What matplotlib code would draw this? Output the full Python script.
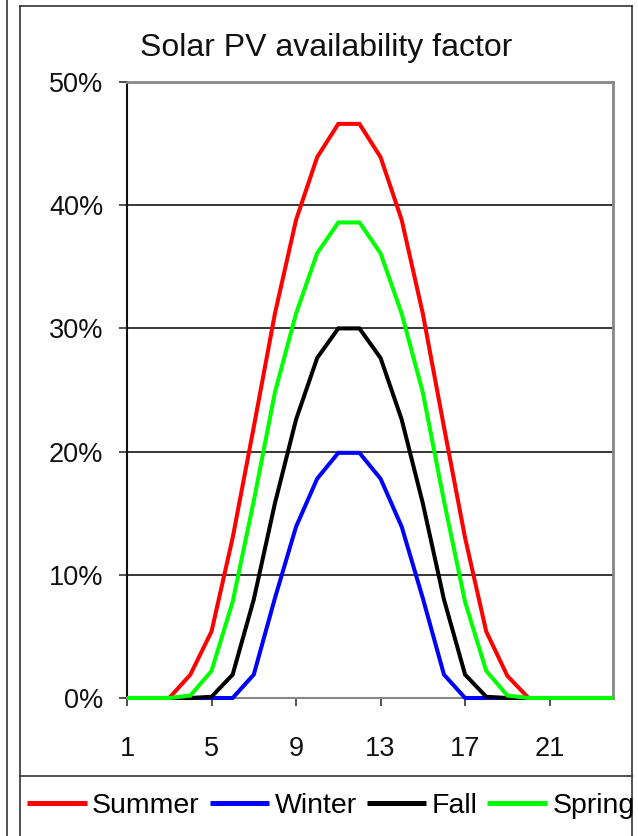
import matplotlib
matplotlib.use("Agg")
import matplotlib.pyplot as plt
from matplotlib.lines import Line2D

plt.rcParams['font.family'] = ['Liberation Sans', 'DejaVu Sans']

hours = list(range(1, 25))
summer = [0, 0, 0, 1.9, 5.4, 13.0, 22.0, 31.2, 38.8, 43.9, 46.6, 46.6,
          43.9, 38.8, 31.2, 22.0, 13.0, 5.4, 1.8, 0, 0, 0, 0, 0]
winter = [0, 0, 0, 0, 0, 0, 1.9, 8.1, 13.9, 17.8, 19.9, 19.9,
          17.8, 13.9, 8.1, 1.9, 0, 0, 0, 0, 0, 0, 0, 0]
fall = [0, 0, 0, 0, 0.1, 1.9, 8.0, 15.8, 22.6, 27.6, 30.0, 30.0,
        27.6, 22.6, 15.8, 8.0, 1.9, 0.1, 0, 0, 0, 0, 0, 0]
spring = [0, 0, 0, 0.2, 2.2, 7.8, 16.0, 24.8, 31.2, 36.1, 38.6, 38.6,
          36.1, 31.2, 24.8, 16.0, 7.8, 2.2, 0.2, 0, 0, 0, 0, 0]
series_names = ["Summer", "Winter", "Fall", "Spring"]
series_colors = ["#FF0000", "#0000FF", "#000000", "#00FF00"]
xticks = [1, 5, 9, 13, 17, 21]
yticks = [0, 10, 20, 30, 40, 50]
ytick_labels = ["0%", "10%", "20%", "30%", "40%", "50%"]
title = "Solar PV availability factor"

W, H = 638, 836
fig = plt.figure(figsize=(W / 100, H / 100), dpi=100)

def fx(px):
    return px / W

def fy(py):
    return 1 - py / H

ax = fig.add_axes([fx(127), fy(698), fx(613) - fx(127), fy(82) - fy(698)])
for vals, name, col in zip([summer, winter, fall, spring], series_names, series_colors):
    ax.plot(hours, vals, color=col, lw=2.9, label=name, solid_joinstyle='miter',
            solid_capstyle='butt', zorder=3, clip_on=False)

ax.set_xlim(1, 24)
ax.set_ylim(0, 50)
ax.set_xticks(xticks)
ax.set_xticklabels([str(t) for t in xticks])
ax.set_yticks(yticks)
ax.set_yticklabels(ytick_labels)
ax.tick_params(axis='both', direction='out', length=6, width=1.2, color='#333333',
               labelsize=19.5, labelcolor='#111111')
ax.tick_params(axis='y', pad=11)
ax.tick_params(axis='x', pad=21)
for y in yticks[1:-1]:
    ax.axhline(y, color='black', lw=1.1, zorder=1)
ax.spines['left'].set_color('#111111')
ax.spines['left'].set_linewidth(1.5)
ax.spines['bottom'].set_color('#888888')
ax.spines['bottom'].set_linewidth(1.5)
ax.spines['top'].set_color('#888888')
ax.spines['top'].set_linewidth(2.0)
ax.spines['right'].set_color('#888888')
ax.spines['right'].set_linewidth(2.0)

fig.text(fx(326), fy(48), title, ha='center', va='center', fontsize=23, color='#111111')

# outer frames
lc = '#333333'
fig.add_artist(Line2D([fx(7), fx(7)], [0, 1], color=lc, lw=1.2))
fig.add_artist(Line2D([fx(20), fx(20)], [0, fy(6)], color=lc, lw=1.2))
fig.add_artist(Line2D([fx(20), fx(632)], [fy(6), fy(6)], color=lc, lw=1.2))
fig.add_artist(Line2D([fx(632), fx(632)], [0, fy(6)], color=lc, lw=1.2))
fig.add_artist(Line2D([fx(20), fx(632)], [fy(776), fy(776)], color=lc, lw=1.2))

leg = fig.legend(loc='center left', bbox_to_anchor=(fx(27), fy(806)), ncol=4, frameon=False,
                 fontsize=20.5, handlelength=2.1, handletextpad=0.18, columnspacing=0.35,
                 borderpad=0, borderaxespad=0)
for h in leg.legend_handles:
    h.set_linewidth(3.6)

fig.savefig("out.png", dpi=100)
